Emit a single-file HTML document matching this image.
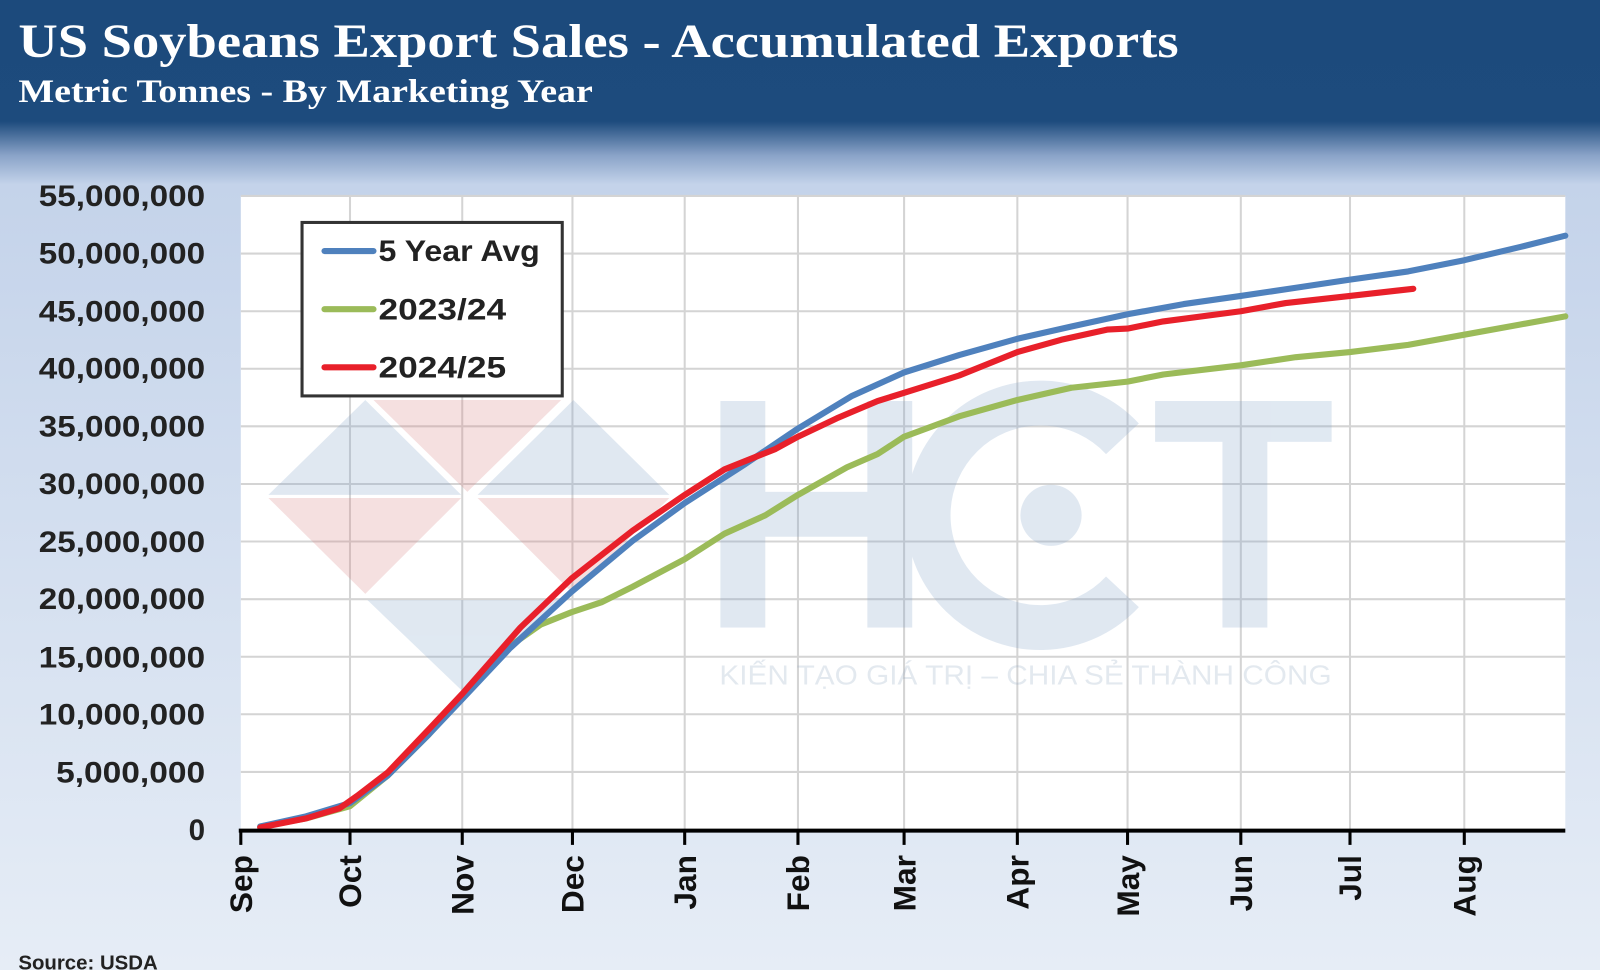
<!DOCTYPE html>
<html><head><meta charset="utf-8"><style>html,body{margin:0;padding:0;width:1600px;height:970px;overflow:hidden}</style></head>
<body>
<svg width="1600" height="970" viewBox="0 0 1568 950.6" xmlns="http://www.w3.org/2000/svg">
<defs>
<linearGradient id="bg" x1="0" y1="0" x2="0" y2="1">
<stop offset="0" stop-color="#1c4a7c"/>
<stop offset="0.125" stop-color="#1d4b7d"/>
<stop offset="0.16" stop-color="#8aa3c8"/>
<stop offset="0.19" stop-color="#c4d3ea"/>
<stop offset="1" stop-color="#e6edf6"/>
</linearGradient>
</defs>
<rect x="0" y="0" width="1568" height="951" fill="url(#bg)"/>
<text x="18" y="56" font-family="Liberation Serif, serif" font-weight="bold" font-size="47" fill="#fff" textLength="1137" lengthAdjust="spacingAndGlyphs">US Soybeans Export Sales - Accumulated Exports</text>
<text x="18" y="100" font-family="Liberation Serif, serif" font-weight="bold" font-size="32" fill="#fff" textLength="563" lengthAdjust="spacingAndGlyphs">Metric Tonnes - By Marketing Year</text>
<rect x="236" y="192" width="1298" height="621" fill="#fff"/>
<g stroke="#d4d4d4" stroke-width="2">
<line x1="236" x2="1534" y1="192" y2="192"/><line x1="236" x2="1534" y1="248.5" y2="248.5"/><line x1="236" x2="1534" y1="305" y2="305"/><line x1="236" x2="1534" y1="361.4" y2="361.4"/><line x1="236" x2="1534" y1="417.8" y2="417.8"/><line x1="236" x2="1534" y1="474.3" y2="474.3"/><line x1="236" x2="1534" y1="530.7" y2="530.7"/><line x1="236" x2="1534" y1="587.2" y2="587.2"/><line x1="236" x2="1534" y1="643.6" y2="643.6"/><line x1="236" x2="1534" y1="700" y2="700"/><line x1="236" x2="1534" y1="756.5" y2="756.5"/>
<line x1="343" x2="343" y1="192" y2="813"/><line x1="453" x2="453" y1="192" y2="813"/><line x1="561" x2="561" y1="192" y2="813"/><line x1="671" x2="671" y1="192" y2="813"/><line x1="782" x2="782" y1="192" y2="813"/><line x1="886" x2="886" y1="192" y2="813"/><line x1="997" x2="997" y1="192" y2="813"/><line x1="1105" x2="1105" y1="192" y2="813"/><line x1="1216" x2="1216" y1="192" y2="813"/><line x1="1323" x2="1323" y1="192" y2="813"/><line x1="1435" x2="1435" y1="192" y2="813"/>
</g>
<g opacity="0.24">
<polygon points="263,485 358,392 452,485" fill="#7fa1c8"/>
<polygon points="263,488 452,488 358,582" fill="#d98080"/>
<polygon points="366,392 550,392 458,482" fill="#d98080"/>
<polygon points="468,485 562,392 656,485" fill="#7fa1c8"/>
<polygon points="468,488 656,488 562,582" fill="#d98080"/>
<polygon points="360,588 552,588 456,680" fill="#7fa1c8"/>
<rect x="706" y="393" width="44" height="222" fill="#7fa1c8"/>
<rect x="850" y="393" width="44" height="222" fill="#7fa1c8"/>
<rect x="706" y="482" width="188" height="44" fill="#7fa1c8"/>
<path d="M1100,430 A110,110 0 1 0 1100,580" stroke="#7fa1c8" stroke-width="44" fill="none"/>
<circle cx="1030" cy="505" r="30" fill="#7fa1c8"/>
<rect x="1132" y="393" width="173" height="40" fill="#7fa1c8"/>
<rect x="1198" y="393" width="44" height="222" fill="#7fa1c8"/>
<text x="1005" y="671" text-anchor="middle" font-family="Liberation Sans, sans-serif" font-size="27" fill="#8fa6c0" textLength="600" lengthAdjust="spacingAndGlyphs">KIẾN TẠO GIÁ TRỊ – CHIA SẺ THÀNH CÔNG</text>
</g>
<g fill="none" stroke-width="6" stroke-linejoin="round" stroke-linecap="round">
<polyline stroke="#9bbb59" points="255,810 300,802 343,790 380,760 420,720 453,683 490,640 530,612 560,600 590,590 620,575 671,548 710,523 750,505 782,485 830,458 860,445 886,428 940,408 997,392 1050,380 1105,374 1140,367 1216,358 1270,350 1323,345 1380,338 1435,328 1490,318 1534,310"/>
<polyline stroke="#4f81bd" points="255,810 300,800 343,787 380,760 420,720 453,685 500,635 560,580 620,530 671,493 730,455 782,420 835,388 886,365 940,348 997,332 1050,320 1105,308 1160,298 1216,290 1270,282 1323,274 1380,266 1435,255 1490,242 1534,231"/>
<polyline stroke="#e8202a" points="255,811 300,802 333,792 350,780 380,757 420,715 453,680 510,615 560,567 620,520 671,485 710,460 760,440 782,428 820,410 860,393 886,385 940,368 997,345 1040,333 1085,323 1105,322 1140,315 1216,305 1260,297 1323,290 1385,283"/>
</g>
<line x1="234" x2="1534" y1="814" y2="814" stroke="#000" stroke-width="4"/>
<g stroke="#000" stroke-width="3">
<line x1="236" x2="236" y1="813" y2="828"/><line x1="343" x2="343" y1="813" y2="828"/><line x1="453" x2="453" y1="813" y2="828"/><line x1="561" x2="561" y1="813" y2="828"/><line x1="671" x2="671" y1="813" y2="828"/><line x1="782" x2="782" y1="813" y2="828"/><line x1="886" x2="886" y1="813" y2="828"/><line x1="997" x2="997" y1="813" y2="828"/><line x1="1105" x2="1105" y1="813" y2="828"/><line x1="1216" x2="1216" y1="813" y2="828"/><line x1="1323" x2="1323" y1="813" y2="828"/><line x1="1435" x2="1435" y1="813" y2="828"/>
</g>
<g font-family="Liberation Sans, sans-serif" font-weight="bold" font-size="29" fill="#222" text-anchor="end" lengthAdjust="spacingAndGlyphs">
<text x="201" y="202" textLength="163" lengthAdjust="spacingAndGlyphs">55,000,000</text><text x="201" y="258" textLength="163" lengthAdjust="spacingAndGlyphs">50,000,000</text><text x="201" y="315" textLength="163" lengthAdjust="spacingAndGlyphs">45,000,000</text><text x="201" y="371" textLength="163" lengthAdjust="spacingAndGlyphs">40,000,000</text><text x="201" y="428" textLength="163" lengthAdjust="spacingAndGlyphs">35,000,000</text><text x="201" y="484" textLength="163" lengthAdjust="spacingAndGlyphs">30,000,000</text><text x="201" y="541" textLength="163" lengthAdjust="spacingAndGlyphs">25,000,000</text><text x="201" y="597" textLength="163" lengthAdjust="spacingAndGlyphs">20,000,000</text><text x="201" y="654" textLength="163" lengthAdjust="spacingAndGlyphs">15,000,000</text><text x="201" y="710" textLength="163" lengthAdjust="spacingAndGlyphs">10,000,000</text><text x="201" y="767" textLength="146" lengthAdjust="spacingAndGlyphs">5,000,000</text><text x="201" y="823">0</text>
</g>
<g font-family="Liberation Sans, sans-serif" font-weight="bold" font-size="31" fill="#111" text-anchor="end">
<text transform="translate(247,838) rotate(-90)">Sep</text>
<text transform="translate(354,838) rotate(-90)">Oct</text>
<text transform="translate(464,838) rotate(-90)">Nov</text>
<text transform="translate(572,838) rotate(-90)">Dec</text>
<text transform="translate(682,838) rotate(-90)">Jan</text>
<text transform="translate(793,838) rotate(-90)">Feb</text>
<text transform="translate(897,838) rotate(-90)">Mar</text>
<text transform="translate(1008,838) rotate(-90)">Apr</text>
<text transform="translate(1116,838) rotate(-90)">May</text>
<text transform="translate(1227,838) rotate(-90)">Jun</text>
<text transform="translate(1334,838) rotate(-90)">Jul</text>
<text transform="translate(1446,838) rotate(-90)">Aug</text>
</g>
<text x="18" y="950" font-family="Liberation Sans, sans-serif" font-size="20" font-weight="bold" fill="#222">Source: USDA</text>
<rect x="296" y="218" width="255" height="170" fill="#fff" stroke="#333" stroke-width="3"/>
<g stroke-width="6" stroke-linecap="round"><line x1="318" x2="366" y1="246" y2="246" stroke="#4f81bd"/><line x1="318" x2="366" y1="303" y2="303" stroke="#9bbb59"/><line x1="318" x2="366" y1="360" y2="360" stroke="#e8202a"/></g>
<g font-family="Liberation Sans, sans-serif" font-weight="bold" font-size="29" fill="#222">
<text x="371" y="256" textLength="158" lengthAdjust="spacingAndGlyphs">5 Year Avg</text><text x="371" y="313" textLength="125" lengthAdjust="spacingAndGlyphs">2023/24</text><text x="371" y="370" textLength="125" lengthAdjust="spacingAndGlyphs">2024/25</text>
</g>
</svg>
</body></html>
